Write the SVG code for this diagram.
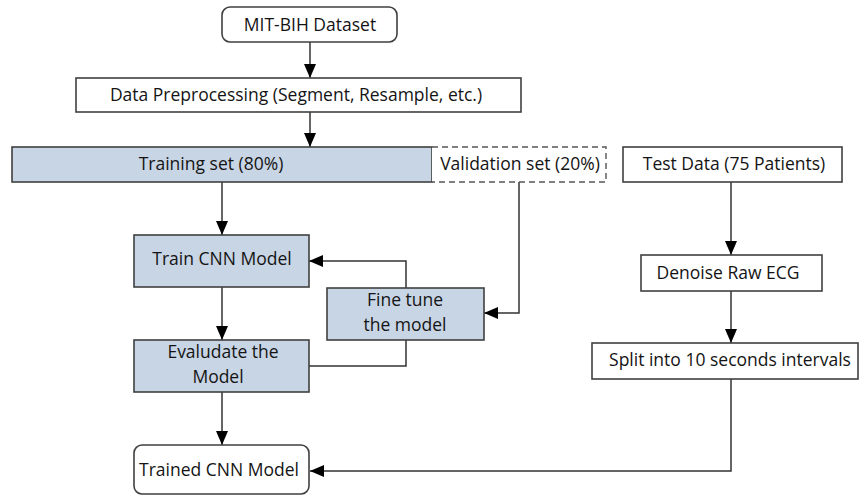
<svg xmlns="http://www.w3.org/2000/svg" width="860" height="496" viewBox="0 0 860 496">
  <style>
    .box { fill: #ffffff; stroke: #404040; stroke-width: 1.6; }
    .blue { fill: #c8d5e5; stroke: #404040; stroke-width: 1.6; }
    .dash { fill: #ffffff; stroke: #555555; stroke-width: 1.4; stroke-dasharray: 6 4; }
    .wire { fill: none; stroke: #333333; stroke-width: 1.5; }
    text { font-family: "Open Sans", "Liberation Sans", sans-serif; font-size: 17.5px; fill: #141414; text-anchor: middle; }
  </style>
  <defs>
    <marker id="arrow" markerUnits="userSpaceOnUse" markerWidth="14" markerHeight="12" refX="14" refY="6" orient="auto">
      <path d="M0,0 L14,6 L0,12 Z" fill="#000000"/>
    </marker>
  </defs>
  <rect width="860" height="496" fill="#ffffff"/>

  <g id="connectors">
    <path class="wire" d="M310,42 V78" marker-end="url(#arrow)"/>
    <path class="wire" d="M310,112 V147" marker-end="url(#arrow)"/>
    <path class="wire" d="M222,182 V235" marker-end="url(#arrow)"/>
    <path class="wire" d="M222,287 V340" marker-end="url(#arrow)"/>
    <path class="wire" d="M222,392 V445" marker-end="url(#arrow)"/>
    <path class="wire" d="M519,182 V313 H484" marker-end="url(#arrow)"/>
    <path class="wire" d="M406,288 V261 H309" marker-end="url(#arrow)"/>
    <path class="wire" d="M309,366 H406 V340"/>
    <path class="wire" d="M731,182 V255" marker-end="url(#arrow)"/>
    <path class="wire" d="M731,291 V343" marker-end="url(#arrow)"/>
    <path class="wire" d="M731,379 V471 H310" marker-end="url(#arrow)"/>
  </g>

  <g id="mit-bih">
    <rect class="box" x="222" y="7" width="175" height="35" rx="8"/>
    <text x="310" y="31">MIT-BIH Dataset</text>
  </g>
  <g id="preprocessing">
    <rect class="box" x="76" y="78" width="445" height="34"/>
    <text x="296" y="101">Data Preprocessing (Segment, Resample, etc.)</text>
  </g>
  <g id="training-set">
    <rect class="blue" x="12" y="147" width="420" height="35"/>
    <text x="211" y="170">Training set (80%)</text>
  </g>
  <g id="validation-set">
    <path class="dash" d="M432,147 H606 V182 H432"/>
    <text x="520" y="170">Validation set (20%)</text>
  </g>
  <g id="test-data">
    <rect class="box" x="623" y="147" width="219" height="35"/>
    <text x="734" y="170">Test Data (75 Patients)</text>
  </g>
  <g id="train-cnn">
    <rect class="blue" x="134" y="235" width="175" height="52"/>
    <text x="222" y="265">Train CNN Model</text>
  </g>
  <g id="fine-tune">
    <rect class="blue" x="327" y="288" width="157" height="52"/>
    <text x="405" y="306">Fine tune</text>
    <text x="405" y="331">the model</text>
  </g>
  <g id="evaluate">
    <rect class="blue" x="134" y="340" width="175" height="52"/>
    <text x="223" y="358">Evaludate the</text>
    <text x="218" y="383">Model</text>
  </g>
  <g id="trained-cnn">
    <rect class="box" x="134" y="445" width="175" height="49" rx="8"/>
    <text x="219" y="476">Trained CNN Model</text>
  </g>
  <g id="denoise">
    <rect class="box" x="641" y="255" width="181" height="36"/>
    <text x="728" y="279">Denoise Raw ECG</text>
  </g>
  <g id="split">
    <rect class="box" x="592" y="343" width="266" height="36"/>
    <text x="730" y="366">Split into 10 seconds intervals</text>
  </g>
</svg>
